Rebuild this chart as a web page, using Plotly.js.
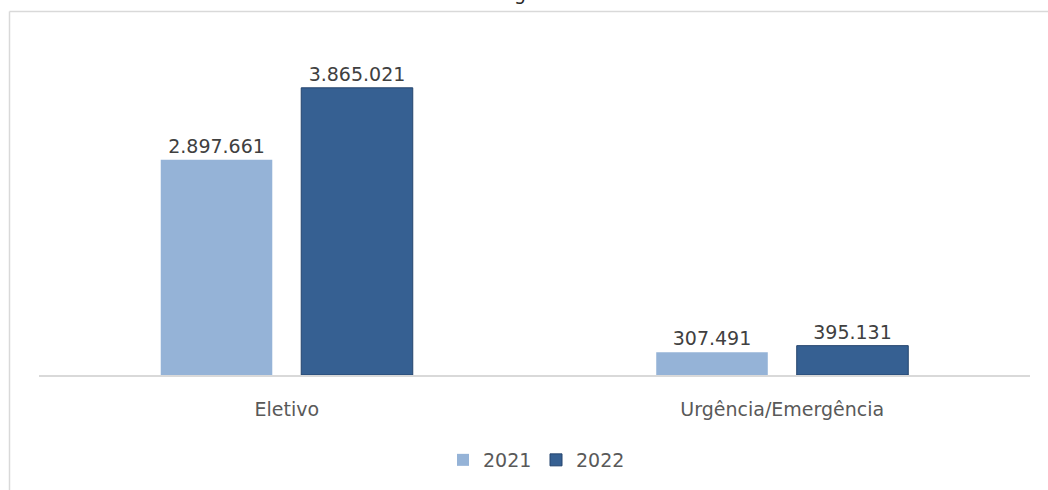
<!DOCTYPE html>
<html>
<head>
<meta charset="utf-8">
<script src="https://cdn.plot.ly/plotly-3.0.1.min.js"></script>
<style>html,body{margin:0;padding:0;background:#fff;}#chart{width:1048px;height:490px;}</style>
</head>
<body>
<div id="chart"></div>
<script>
const categories = ["Eletivo", "Urgência/Emergência"];
const series2021 = [2897661, 307491];
const series2022 = [3865021, 395131];
const seriesNames = ["2021", "2022"];
const chartTitle = "Gráfico 35 – Origem do atendimento";

const FONT = "DejaVu Sans, sans-serif";

const traces = [
  {
    type: "bar", name: seriesNames[0], x: categories, y: series2021,
    marker: {color: "#95b3d7"},
    texttemplate: "%{y:,}", textposition: "outside", cliponaxis: false,
    textfont: {family: FONT, size: 19, color: "#404040"},
    hoverinfo: "skip"
  },
  {
    type: "bar", name: seriesNames[1], x: categories, y: series2022,
    marker: {color: "#366092", line: {color: "#25456e", width: 1}},
    texttemplate: "%{y:,}", textposition: "outside", cliponaxis: false,
    textfont: {family: FONT, size: 19, color: "#404040"},
    hoverinfo: "skip"
  }
];

const L = 39, R = 1030, T = 30, B = 376;
const W = R - L, H = B - T;
const px = v => (v - L) / W;
const py = v => (B - v) / H;

const layout = {
  width: 1048, height: 490,
  margin: {l: L, r: 1048 - R, t: T, b: 490 - B, pad: 0},
  paper_bgcolor: "#ffffff", plot_bgcolor: "#ffffff",
  separators: ",.",
  font: {family: FONT, size: 19, color: "#595959"},
  barmode: "group", bargap: 0.433, bargroupgap: 0.206,
  showlegend: true,
  legend: {orientation: "h", x: px(536), xanchor: "center", y: py(460), yanchor: "middle",
           font: {family: FONT, size: 19, color: "#595959"}, itemwidth: 30, entrywidth: 48, traceorder: "normal"},
  xaxis: {showline: true, linecolor: "#d9d9d9", linewidth: 1.5, ticks: "", showgrid: false,
          zeroline: false, tickfont: {family: FONT, size: 19, color: "#595959"}, ticklabelstandoff: 17},
  yaxis: {visible: false, range: [0, 4643000], showgrid: false, zeroline: false},
  annotations: [
    {text: chartTitle, xref: "paper", yref: "paper", x: px(540), y: py(6), xanchor: "center", yanchor: "bottom",
     showarrow: false, font: {family: FONT, size: 19, color: "#262626"}}
  ],
  shapes: [
    {type: "line", xref: "paper", yref: "paper", x0: px(9.5), x1: px(1050), y0: py(11.5), y1: py(11.5),
     line: {color: "#d9d9d9", width: 1.5}},
    {type: "line", xref: "paper", yref: "paper", x0: px(9.5), x1: px(9.5), y0: py(11.5), y1: py(492),
     line: {color: "#d9d9d9", width: 1.5}}
  ]
};

Plotly.newPlot("chart", traces, layout, {staticPlot: true, displayModeBar: false});
</script>
</body>
</html>
